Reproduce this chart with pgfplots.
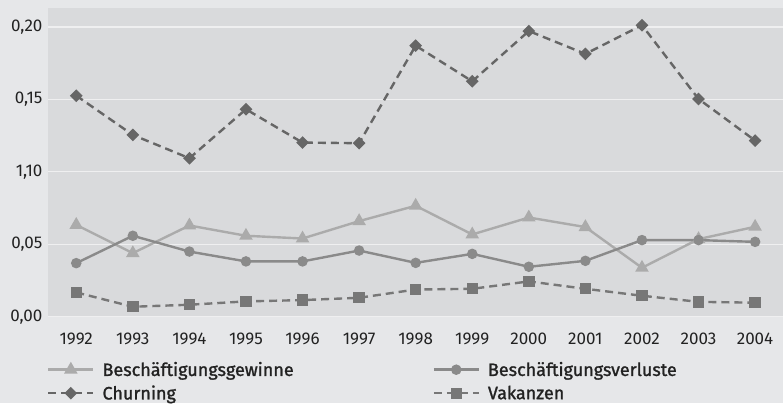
\documentclass[border=0pt]{standalone}
\usepackage{fontspec}
\setmainfont{Fira Sans}
\newfontfamily\legfont[FakeBold=1.3]{Fira Sans}
\usepackage{pgfplots}
\pgfplotsset{compat=1.18}

\definecolor{outerbg}{HTML}{E6E7E9}
\definecolor{plotbg}{HTML}{D9DADC}
\definecolor{gridc}{HTML}{EFEFF0}
\definecolor{cChurn}{HTML}{666666}
\definecolor{cVak}{HTML}{777777}
\definecolor{cVerl}{HTML}{8A8A8A}
\definecolor{cGew}{HTML}{ABABAB}
\definecolor{txt}{HTML}{222222}

\begin{document}
\begin{tikzpicture}[x=1pt,y=1pt]
\fill[outerbg] (0,0) rectangle (784,403);
\begin{axis}[
    at={(48pt,86pt)}, anchor=south west,
    scale only axis,
    width=736pt, height=309pt,
    xmin=1991.5, xmax=2004.5,
    ymin=0, ymax=0.2131,
    axis background/.style={fill=plotbg},
    axis line style={draw=none},
    major tick length=0pt,
    ymajorgrids,
    grid style={gridc, line width=1.2pt},
    xtick={1992,...,2004},
    /pgf/number format/assume math mode=true,
    xticklabel style={/pgf/number format/1000 sep={}},
    ytick={0,0.05,0.1,0.15,0.2},
    yticklabels={{0,00},{0,05},{1,10},{0,15},{0,20}},
    every tick label/.append style={font=\fontsize{17}{19}\selectfont, text=txt},
    xticklabel style={yshift=-13pt},
    yticklabel style={xshift=-2pt},
    legend columns=2,
    legend style={
        at={(0,0)}, anchor=north west, yshift=-41pt, xshift=-4pt,
        draw=none, fill=none,
        font=\fontsize{18}{20}\selectfont\legfont,
        text=txt,
        row sep=4pt,
        /tikz/every odd column/.append style={column sep=6pt},
        /tikz/every even column/.append style={column sep=137pt},
    },
    legend cell align=left,
    legend image code/.code={
        \draw[#1, mark=none, line width=2.4pt] (0pt,0pt) -- (45pt,0pt);
        \draw[#1, solid] plot coordinates {(22.5pt,0pt)};
    },
]

\addplot[cGew, line width=2.4pt, mark=triangle*, mark size=5.5pt,
    mark options={solid}] coordinates {
    (1992,0.0634) (1993,0.0439) (1994,0.0630) (1995,0.0559) (1996,0.0540)
    (1997,0.0660) (1998,0.0766) (1999,0.0568) (2000,0.0685) (2001,0.0619)
    (2002,0.0338) (2003,0.0536) (2004,0.0621)
};
\addlegendentry{Beschäftigungsgewinne}

\addplot[cVerl, line width=2.4pt, mark=*, mark size=4pt,
    mark options={solid}] coordinates {
    (1992,0.0370) (1993,0.0559) (1994,0.0450) (1995,0.0382) (1996,0.0382)
    (1997,0.0457) (1998,0.0372) (1999,0.0434) (2000,0.0345) (2001,0.0386)
    (2002,0.0529) (2003,0.0529) (2004,0.0517)
};
\addlegendentry{Beschäftigungsverluste}

\addplot[cChurn, line width=2.4pt, dash pattern=on 8pt off 5pt,
    mark=square*, mark size=3.3pt, mark options={solid, rotate=45}] coordinates {
    (1992,0.1526) (1993,0.1255) (1994,0.1094) (1995,0.1432) (1996,0.1202)
    (1997,0.1198) (1998,0.1871) (1999,0.1625) (2000,0.1972) (2001,0.1814)
    (2002,0.2012) (2003,0.1503) (2004,0.1216)
};
\addlegendentry{Churning}

\addplot[cVak, line width=2.4pt, dash pattern=on 8pt off 5pt,
    mark=square*, mark size=4.5pt, mark options={solid}] coordinates {
    (1992,0.0168) (1993,0.0069) (1994,0.0083) (1995,0.0106) (1996,0.0115)
    (1997,0.0131) (1998,0.0188) (1999,0.0193) (2000,0.0244) (2001,0.0193)
    (2002,0.0145) (2003,0.0103) (2004,0.0097)
};
\addlegendentry{Vakanzen}

\end{axis}
\end{tikzpicture}
\end{document}
